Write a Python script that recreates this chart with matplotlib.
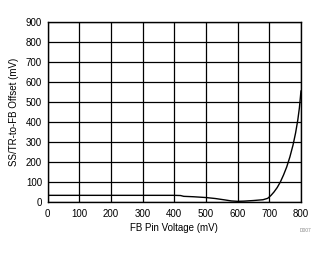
import matplotlib
matplotlib.use("Agg")
import matplotlib.pyplot as plt

fb_mv = [0, 50, 100, 200, 300, 400, 420, 430, 460, 500, 530, 560, 580, 600, 620, 650, 680, 695, 705, 715, 725, 735, 745, 755, 765, 775, 783, 790, 795, 798, 800, 800]
offset_mv = [33, 33, 33, 33, 33, 33, 32, 28, 26, 22, 17, 10, 5, 3, 4, 7, 11, 18, 32, 50, 72, 100, 135, 175, 225, 285, 345, 410, 470, 520, 555, 555]
xticks = [0, 100, 200, 300, 400, 500, 600, 700, 800]
yticks = [0, 100, 200, 300, 400, 500, 600, 700, 800, 900]

plt.rcParams['font.family'] = ['Liberation Sans', 'DejaVu Sans']
fig = plt.figure(figsize=(3.30, 2.54), dpi=100)
ax = fig.add_axes([0.144, 0.205, 0.768, 0.708])
ax.plot(fb_mv, offset_mv, color='black', lw=1.0)
ax.set_xlim(0, 800)
ax.set_ylim(0, 900)
ax.set_xticks(xticks)
ax.set_yticks(yticks)
ax.grid(True, color='black', lw=0.9)
ax.tick_params(length=0, labelsize=7, colors='black')
ax.tick_params(axis='x', pad=5)
ax.tick_params(axis='y', pad=4)
for s in ax.spines.values():
    s.set_color('black')
    s.set_linewidth(1.0)
ax.set_xlabel('FB Pin Voltage (mV)', fontsize=7, labelpad=3)
ax.set_ylabel('SS/TR-to-FB Offset (mV)', fontsize=7, labelpad=5)
fig.text(0.925, 0.085, 'D007', fontsize=3.5, color='#888888', ha='center')
fig.savefig('out.png', dpi=100)
